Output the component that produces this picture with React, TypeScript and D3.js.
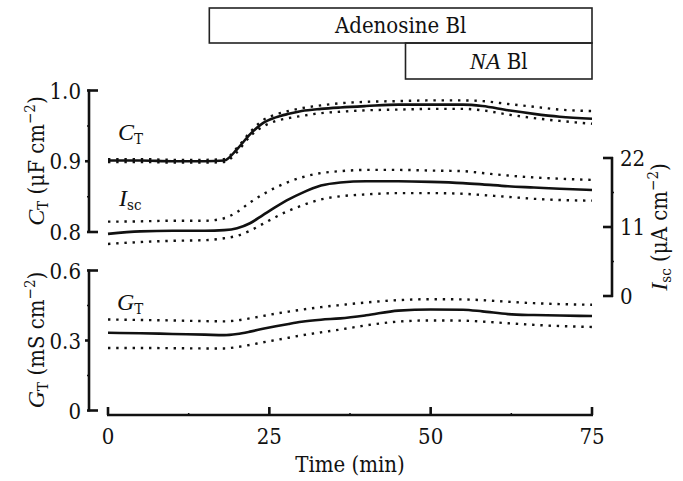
import React from "react";
import * as d3 from "d3";

const timeMin = [0, 5, 10, 15, 18, 20, 22, 24, 26, 28, 30, 33, 36, 40, 45, 50, 55, 58, 62, 66, 70, 75];

const ctMean = [0.901, 0.901, 0.9, 0.9, 0.901, 0.917, 0.938, 0.954, 0.962, 0.967, 0.971, 0.974, 0.976, 0.978, 0.98, 0.98, 0.98, 0.978, 0.972, 0.967, 0.963, 0.96];
const ctUpper = [0.903, 0.903, 0.902, 0.902, 0.903, 0.919, 0.941, 0.958, 0.966, 0.971, 0.975, 0.979, 0.982, 0.984, 0.985, 0.986, 0.986, 0.985, 0.981, 0.977, 0.973, 0.971];
const ctLower = [0.899, 0.899, 0.898, 0.898, 0.899, 0.913, 0.935, 0.949, 0.957, 0.961, 0.964, 0.968, 0.97, 0.972, 0.973, 0.974, 0.974, 0.972, 0.966, 0.961, 0.957, 0.953];

const iscMean = [9.9, 10.3, 10.4, 10.4, 10.5, 10.8, 11.6, 12.9, 14.2, 15.4, 16.4, 17.6, 18.1, 18.3, 18.3, 18.2, 18.0, 17.8, 17.5, 17.3, 17.1, 16.9];
const iscUpper = [11.85, 11.9, 12.0, 12.0, 12.4, 13.4, 14.9, 16.2, 17.3, 18.2, 18.9, 19.6, 19.9, 20.1, 20.1, 20.0, 19.9, 19.6, 19.2, 18.9, 18.7, 18.5];
const iscLower = [8.3, 8.6, 8.8, 8.9, 9.2, 9.6, 10.4, 11.5, 12.6, 13.6, 14.4, 15.4, 15.9, 16.2, 16.4, 16.4, 16.3, 16.1, 15.8, 15.5, 15.3, 15.2];

const gtMean = [0.333, 0.331, 0.328, 0.325, 0.323, 0.328, 0.338, 0.35, 0.361, 0.371, 0.38, 0.389, 0.395, 0.408, 0.428, 0.433, 0.432, 0.425, 0.413, 0.409, 0.407, 0.405];
const gtUpper = [0.39, 0.388, 0.386, 0.383, 0.382, 0.386, 0.395, 0.405, 0.415, 0.424, 0.432, 0.443, 0.452, 0.463, 0.473, 0.477, 0.476, 0.473, 0.466, 0.46, 0.456, 0.453];
const gtLower = [0.268, 0.268, 0.267, 0.266, 0.266, 0.272, 0.281, 0.292, 0.302, 0.312, 0.322, 0.335, 0.347, 0.365, 0.381, 0.386, 0.385, 0.381, 0.374, 0.367, 0.362, 0.358];

const xTicks = [0, 25, 50, 75];
const xMinorTicks = [12.5, 37.5, 62.5];
const ctTicks = [0.8, 0.9, 1.0];
const ctMinor = [0.85, 0.95];
const iscTicks = [0, 11, 22];
const iscMinor = [5.5, 16.5];
const gtTicks = [0, 0.3, 0.6];
const gtMinor = [0.15, 0.45];

const adenosineSpan = [15.7, 75];
const naSpan = [46.1, 75];

const SERIF = "DejaVu Serif";
const ITALIC = "Liberation Serif";
const FS = 22;
const INK = "#111";

export default function App() {
  const x = d3.scaleLinear().domain([0, 75]).range([108, 592]);
  const yC = d3.scaleLinear().domain([0.8, 1.0]).range([232, 90.5]);
  const yI = d3.scaleLinear().domain([0, 22]).range([296, 158]);
  const yG = d3.scaleLinear().domain([0, 0.6]).range([410.5, 270.5]);

  const mk = (vals: number[], y: d3.ScaleLinear<number, number>) =>
    d3
      .line<number>()
      .x((_, i) => x(timeMin[i]))
      .y((v) => y(v))
      .curve(d3.curveMonotoneX)(vals) as string;

  const solid = { fill: "none", stroke: INK, strokeWidth: 2.6 };
  const dotted = { fill: "none", stroke: INK, strokeWidth: 2.4, strokeDasharray: "2.4 5.8" };

  const leftX = 89;
  const rightX = 612;
  const axisW = 2.6;

  const leftAxis = (
    y: d3.ScaleLinear<number, number>,
    ticks: number[],
    minor: number[],
    fmt: (v: number) => string
  ) => {
    const [d0, d1] = y.domain();
    return (
      <g>
        <line x1={leftX} x2={leftX} y1={y(d1) - 1} y2={y(d0) + 1} stroke={INK} strokeWidth={axisW} />
        {ticks.map((t, i) => {
          const isEnd = i === 0 || i === ticks.length - 1;
          return (
            <g key={t}>
              {isEnd ? (
                <line x1={leftX - 2} x2={leftX + 9} y1={y(t)} y2={y(t)} stroke={INK} strokeWidth={axisW} />
              ) : (
                <line x1={leftX - 4} x2={leftX} y1={y(t)} y2={y(t)} stroke={INK} strokeWidth={axisW} />
              )}
              <text x={leftX - 8} y={y(t) + 8} textAnchor="end" fontSize={FS} fontFamily={SERIF} fill={INK}>
                {fmt(t)}
              </text>
            </g>
          );
        })}
        {minor.map((t) => (
          <line key={t} x1={leftX - 2} x2={leftX} y1={y(t)} y2={y(t)} stroke={INK} strokeWidth={1.5} />
        ))}
      </g>
    );
  };

  const sub = (main: string, s: string) => (
    <>
      <tspan fontStyle="italic" fontFamily={ITALIC} fontSize={FS + 2} fontStretch="normal">{main}</tspan>
      <tspan fontSize={15} dy={4}>{s}</tspan>
    </>
  );

  return (
    <svg width={683} height={481} style={{ position: "absolute", left: 0, top: 0, fontStretch: "semi-condensed" }}>
      <rect x={0} y={0} width={683} height={481} fill="#fff" />

      <rect
        x={x(adenosineSpan[0])}
        y={8}
        width={x(adenosineSpan[1]) - x(adenosineSpan[0])}
        height={35}
        fill="none"
        stroke="#222"
        strokeWidth={1.6}
      />
      <text x={(x(adenosineSpan[0]) + x(adenosineSpan[1])) / 2} y={33} textAnchor="middle" fontSize={FS} fontFamily={SERIF} fill={INK}>
        Adenosine Bl
      </text>
      <rect
        x={x(naSpan[0])}
        y={43}
        width={x(naSpan[1]) - x(naSpan[0])}
        height={36}
        fill="none"
        stroke="#222"
        strokeWidth={1.6}
      />
      <text x={(x(naSpan[0]) + x(naSpan[1])) / 2} y={69} textAnchor="middle" fontSize={FS} fontFamily={SERIF} fill={INK}>
        <tspan fontStyle="italic" fontFamily={ITALIC} fontSize={FS + 2}>NA</tspan> Bl
      </text>

      {leftAxis(yC, ctTicks, ctMinor, (v) => v.toFixed(1))}
      {leftAxis(yG, gtTicks, gtMinor, (v) => (v === 0 ? "0" : v.toFixed(1)))}

      <g>
        <line x1={rightX} x2={rightX} y1={yI(22) - 1} y2={yI(0) + 1} stroke={INK} strokeWidth={axisW} />
        {iscTicks.map((t) => (
          <g key={t}>
            <line x1={rightX - 9} x2={rightX + 1} y1={yI(t)} y2={yI(t)} stroke={INK} strokeWidth={axisW} />
            <text x={rightX + 8} y={yI(t) + 8} textAnchor="start" fontSize={FS} fontFamily={SERIF} fill={INK}>
              {t}
            </text>
          </g>
        ))}
        {iscMinor.map((t) => (
          <line key={t} x1={rightX} x2={rightX + 2} y1={yI(t)} y2={yI(t)} stroke={INK} strokeWidth={1.5} />
        ))}
      </g>

      <g>
        <line x1={x(0) - 1} x2={x(75) + 1} y1={415} y2={415} stroke={INK} strokeWidth={axisW} />
        {xTicks.map((t) => (
          <g key={t}>
            <line x1={x(t)} x2={x(t)} y1={407} y2={415} stroke={INK} strokeWidth={axisW} />
            <text x={x(t)} y={444} textAnchor="middle" fontSize={FS} fontFamily={SERIF} fill={INK}>
              {t}
            </text>
          </g>
        ))}
        {xMinorTicks.map((t) => (
          <line key={t} x1={x(t)} x2={x(t)} y1={413} y2={415} stroke={INK} strokeWidth={1.5} />
        ))}
        <text x={(x(0) + x(75)) / 2} y={472} textAnchor="middle" fontSize={FS} fontFamily={SERIF} fill={INK}>
          Time (min)
        </text>
      </g>

      <text transform="translate(44,161) rotate(-90)" textAnchor="middle" fontSize={FS} fontFamily={SERIF} fill={INK}>
        {sub("C", "T")}
        <tspan dy={-4}> (μF cm</tspan>
        <tspan fontSize={15} dy={-9}>−2</tspan>
        <tspan dy={9}>)</tspan>
      </text>
      <text transform="translate(44,340) rotate(-90)" textAnchor="middle" fontSize={FS} fontFamily={SERIF} fill={INK}>
        {sub("G", "T")}
        <tspan dy={-4}> (mS cm</tspan>
        <tspan fontSize={15} dy={-9}>−2</tspan>
        <tspan dy={9}>)</tspan>
      </text>
      <text transform="translate(667,227) rotate(-90)" textAnchor="middle" fontSize={FS} fontFamily={SERIF} fill={INK}>
        {sub("I", "sc")}
        <tspan dy={-4}> (μA cm</tspan>
        <tspan fontSize={15} dy={-9}>−2</tspan>
        <tspan dy={9}>)</tspan>
      </text>

      <text x={118} y={140} fontSize={FS} fontFamily={SERIF} fill={INK}>
        {sub("C", "T")}
      </text>
      <text x={119} y={206} fontSize={FS} fontFamily={SERIF} fill={INK}>
        {sub("I", "sc")}
      </text>
      <text x={117} y={310} fontSize={FS} fontFamily={SERIF} fill={INK}>
        {sub("G", "T")}
      </text>

      <path d={mk(ctUpper, yC)} {...dotted} />
      <path d={mk(ctLower, yC)} {...dotted} />
      <path d={mk(ctMean, yC)} {...solid} />

      <path d={mk(iscUpper, yI)} {...dotted} />
      <path d={mk(iscLower, yI)} {...dotted} />
      <path d={mk(iscMean, yI)} {...solid} />

      <path d={mk(gtUpper, yG)} {...dotted} />
      <path d={mk(gtLower, yG)} {...dotted} />
      <path d={mk(gtMean, yG)} {...solid} />
    </svg>
  );
}
